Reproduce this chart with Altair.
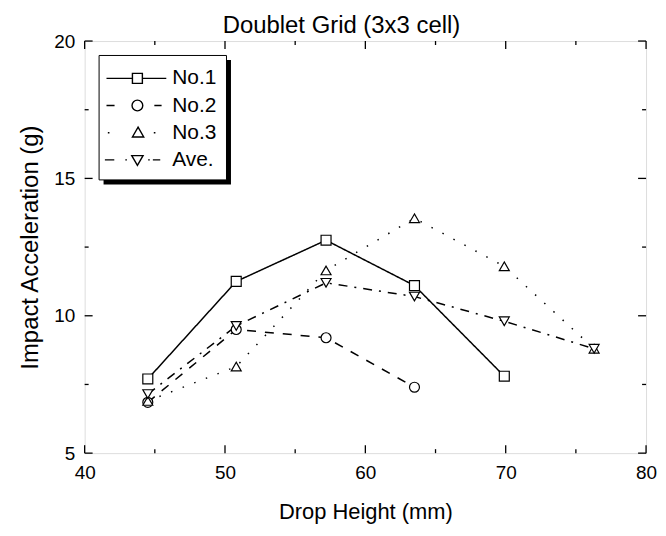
import altair as alt
import pandas as pd

# ---- data ----
heights = [44.5, 50.8, 57.2, 63.5, 69.9, 76.3]
no1 = [7.7, 11.25, 12.75, 11.1, 7.8, None]
no2 = [6.85, 9.5, 9.2, 7.4, None, None]
no3 = [6.9, 8.15, 11.65, 13.55, 11.8, 8.8]
ave = [7.15, 9.63, 11.2, 10.7, 9.8, 8.8]
series_names = ["No.1", "No.2", "No.3", "Ave."]

x_major = [40, 50, 60, 70, 80]
x_minor = [45, 55, 65, 75]
y_major = [5, 10, 15, 20]
y_minor = [7.5, 12.5, 17.5]

rows = []
for name, vals in zip(series_names, [no1, no2, no3, ave]):
    for h, v in zip(heights, vals):
        if v is not None:
            rows.append({"series": name, "height": h, "value": v})
df = pd.DataFrame(rows)

W, H = 564, 414
FONT = "Liberation Sans"

xscale = alt.Scale(domain=[40, 80], nice=False, zero=False)
yscale = alt.Scale(domain=[5, 20], nice=False, zero=False)

dashes = [[1, 0], [9, 9], [1.5, 11], [9, 7, 2, 7]]
shapes = ["square", "circle", "triangle-up", "triangle-down"]

legend_paths = [
    "M-1.3,0H0.63M1.37,0H3.15M0.63,-0.37H1.37V0.37H0.63Z",
    "M-1.3,0H-0.7M2.26,0H2.8M0.6,0A0.4,0.4 0 1,0 1.4,0A0.4,0.4 0 1,0 0.6,0Z",
    "M-1.2,0H-1.08M2.22,0H2.34M1.05,-0.42L1.47,0.32L0.63,0.32Z",
    "M-1.42,0H-0.72M0.1,0H0.22M0.58,-0.32L1.42,-0.32L1.0,0.4ZM1.8,0H1.92M2.15,0H2.7",
]

base = alt.Chart(df)

lines = base.mark_line(color="black", strokeWidth=1.5).encode(
    x=alt.X("height:Q", scale=xscale,
            axis=alt.Axis(values=x_major, ticks=False, domain=False, grid=False,
                          labelFlush=False,
                          labelFontSize=19, labelPadding=10, labelFont=FONT,
                          labelColor="black", title="Drop Height (mm)",
                          titleFontSize=22, titleFont=FONT, titleFontWeight="normal",
                          titleColor="black", titlePadding=20)),
    y=alt.Y("value:Q", scale=yscale,
            axis=alt.Axis(values=y_major, ticks=False, domain=False, grid=False,
                          labelFlush=False,
                          labelFontSize=19, labelPadding=10, labelFont=FONT,
                          labelColor="black", title="Impact Acceleration (g)",
                          titleFontSize=24, titleFont=FONT, titleFontWeight="normal",
                          titleColor="black", titlePadding=11)),
    strokeDash=alt.StrokeDash("series:N",
                              scale=alt.Scale(domain=series_names, range=dashes),
                              legend=None),
    detail="series:N",
    order="height:Q",
)

points = base.mark_point(filled=True, fill="white", stroke="black",
                         strokeWidth=1.2, size=100, opacity=1).encode(
    x=alt.X("height:Q", scale=xscale),
    y=alt.Y("value:Q", scale=yscale),
    shape=alt.Shape("series:N",
                    scale=alt.Scale(domain=series_names, range=shapes),
                    legend=None),
)

legend_layer = base.mark_point(opacity=0, color="black").encode(
    x=alt.X("height:Q", scale=xscale),
    y=alt.Y("value:Q", scale=yscale),
    shape=alt.Shape("series:N",
                    scale=alt.Scale(domain=series_names, range=legend_paths),
                    legend=alt.Legend(title=None, orient="none", legendX=14, legendY=14,
                                      symbolSize=729, symbolOpacity=1,
                                      symbolFillColor="white", symbolStrokeColor="black",
                                      symbolStrokeWidth=1.4, symbolOffset=2,
                                      labelOffset=34, labelFontSize=21, labelFont=FONT,
                                      labelColor="black", padding=9, rowPadding=2.3,
                                      strokeColor="black", fillColor="white")),
)

shadow = alt.Chart(alt.Data(values=[{}])).mark_rect(color="black").encode(
    x=alt.value(19), x2=alt.value(147), y=alt.value(19), y2=alt.value(144)
)

def tick_layer(vals, axis, side, length):
    d = alt.Chart(pd.DataFrame({"v": vals})).mark_rule(color="black", strokeWidth=1.3)
    if axis == "x":
        y0 = H if side == "bottom" else 0
        y1 = H - length if side == "bottom" else length
        return d.encode(x=alt.X("v:Q", scale=xscale), y=alt.value(y0), y2=alt.value(y1))
    else:
        x0 = 0 if side == "left" else W
        x1 = length if side == "left" else W - length
        return d.encode(y=alt.Y("v:Q", scale=yscale), x=alt.value(x0), x2=alt.value(x1))

ticks = []
for side in ["bottom", "top"]:
    ticks.append(tick_layer(x_major, "x", side, 8))
    ticks.append(tick_layer(x_minor, "x", side, 4))
for side in ["left", "right"]:
    ticks.append(tick_layer(y_major, "y", side, 8))
    ticks.append(tick_layer(y_minor, "y", side, 4))

chart = alt.layer(
    shadow, *ticks, lines, points, legend_layer
).resolve_scale(
    shape="independent", strokeDash="independent"
).resolve_legend(
    shape="independent"
).properties(
    width=W, height=H,
    title=alt.TitleParams("Doublet Grid (3x3 cell)", fontSize=24, font=FONT,
                          fontWeight="normal", color="black", dx=-24, offset=-6),
    autosize=alt.AutoSizeParams(type="none"),
    padding={"left": 77, "top": 32, "right": 12, "bottom": 72},
).configure_view(
    stroke="black", strokeWidth=1.5
).configure(background="white")

chart.save("out.html", embed_options={"renderer": "svg", "actions": False})
